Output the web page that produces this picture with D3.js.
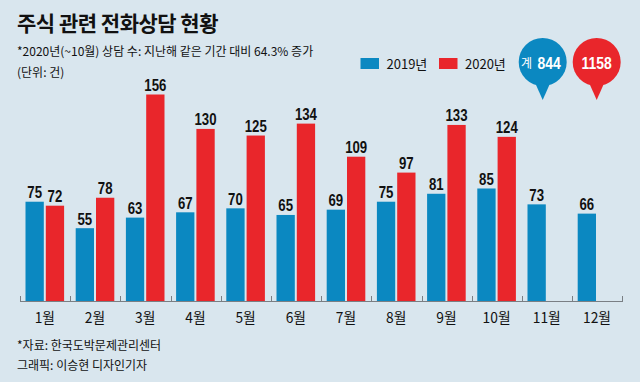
<!DOCTYPE html>
<html><head><meta charset="utf-8">
<script src="https://cdn.jsdelivr.net/npm/d3@7"></script>
<style>
html,body{margin:0;padding:0;background:#d9e6ee;}
svg{display:block;}
</style></head>
<body>
<svg id="chart" width="640" height="382"></svg>
<script>
const months = ["1월","2월","3월","4월","5월","6월","7월","8월","9월","10월","11월","12월"];
const values2019 = [75,55,63,67,70,65,69,75,81,85,73,66];
const values2020 = [72,78,156,130,125,134,109,97,133,124,null,null];
const seriesNames = ["2019년","2020년"];
const colors = ["#0b88c1","#e9262b"];
const totals = ["844","1158"];

const svg = d3.select("#chart");
const W = 640, H = 382;
svg.append("rect").attr("width",W).attr("height",H).attr("fill","#d9e6ee");

const KFONT = "'Noto Sans CJK KR',sans-serif";
const NFONT = "'Liberation Sans',Arial,sans-serif";

const x = d3.scaleBand().domain(months).range([20,622.4]).paddingInner(0).paddingOuter(0);
const y = d3.scaleLinear().domain([0,156]).range([301,94.5]);
const bw = 18.3, gap = 2, off = 5.5;

// axis
const axisG = svg.append("g").attr("transform","translate(0,301)");
axisG.append("line").attr("x1",20).attr("x2",622.4).attr("y1",0.5).attr("y2",0.5)
  .attr("stroke","#7a7f84").attr("stroke-width",1);
const tickPos = months.map(m=>x(m)).concat([x.range()[1]]);
axisG.selectAll("line.t").data(tickPos).enter().append("line").attr("class","t")
  .attr("x1",d=>Math.round(d)+0.5).attr("x2",d=>Math.round(d)+0.5).attr("y1",-5).attr("y2",1)
  .attr("stroke","#7a7f84").attr("stroke-width",1);

// bars
const series = [values2019, values2020];
series.forEach((vals,si)=>{
  const g = svg.append("g");
  const data = months.map((m,i)=>({m, v: vals[i]})).filter(d=>d.v!=null);
  g.selectAll("rect").data(data).enter().append("rect")
    .attr("x",d=>x(d.m)+off+si*(bw+gap))
    .attr("width",bw)
    .attr("y",d=>y(d.v))
    .attr("height",d=>y(0)-y(d.v))
    .attr("fill",colors[si]);
  g.selectAll("text").data(data).enter().append("text")
    .attr("transform",d=>`translate(${x(d.m)+off+si*(bw+gap)+bw/2},${y(d.v)-3.5}) scale(0.8,1)`)
    .attr("text-anchor","middle")
    .attr("font-family",NFONT).attr("font-weight","bold").attr("font-size",16.5)
    .attr("fill","#111")
    .text(d=>d.v);
});

// month labels
svg.append("g").selectAll("text").data(months).enter().append("text")
  .attr("transform",d=>`translate(${x(d)+off+bw+gap/2},323) scale(0.92,1)`)
  .attr("text-anchor","middle")
  .attr("font-family",KFONT).attr("font-size",15).attr("fill","#111")
  .text(d=>d);

// title
svg.append("text").attr("x",17).attr("y",31)
  .attr("font-family",KFONT).attr("font-weight","bold").attr("font-size",21)
  .attr("fill","#111").attr("letter-spacing",-0.5).text("주식 관련 전화상담 현황");
svg.append("text").attr("x",17).attr("y",56)
  .attr("font-family",KFONT).attr("font-size",12).attr("fill","#111")
  .text("*2020년(~10월) 상담 수: 지난해 같은 기간 대비 64.3% 증가");
svg.append("text").attr("x",17).attr("y",77)
  .attr("font-family",KFONT).attr("font-size",12).attr("fill","#111")
  .text("(단위: 건)");

// legend
const legX = [360.5, 439];
seriesNames.forEach((n,i)=>{
  svg.append("rect").attr("x",legX[i]).attr("y",58).attr("width",18.5).attr("height",11).attr("fill",colors[i]);
  svg.append("text").attr("x",legX[i]+26).attr("y",68.5)
    .attr("font-family",KFONT).attr("font-size",13).attr("fill","#111").text(n);
});

// bubbles
const bub = [{cx:542.7, c:colors[0]},{cx:596.7, c:colors[1]}];
bub.forEach((b,i)=>{
  const cy = 62, r = 24, tipY = 100;
  const g = svg.append("g");
  const a1 = Math.PI/2 - 0.28, a2 = Math.PI/2 + 0.28;
  g.append("path")
    .attr("d",`M${b.cx + r*Math.cos(a1)},${cy + r*Math.sin(a1)} L${b.cx},${tipY} L${b.cx + r*Math.cos(a2)},${cy + r*Math.sin(a2)} Z`)
    .attr("fill",b.c);
  g.append("circle").attr("cx",b.cx).attr("cy",cy).attr("r",r).attr("fill",b.c);
});
svg.append("text").attr("x",526.5).attr("y",68).attr("text-anchor","middle").attr("fill","#fff")
  .attr("font-family",KFONT).attr("font-size",12).text("계");
svg.append("text").attr("transform","translate(549,68.5) scale(0.82,1)").attr("text-anchor","middle").attr("fill","#fff")
  .attr("font-family",NFONT).attr("font-weight","bold").attr("font-size",17).text(totals[0]);
svg.append("text").attr("transform","translate(596.7,68.5) scale(0.82,1)").attr("text-anchor","middle").attr("fill","#fff")
  .attr("font-family",NFONT).attr("font-weight","bold").attr("font-size",17).text(totals[1]);

// footer
svg.append("text").attr("x",17).attr("y",350)
  .attr("font-family",KFONT).attr("font-size",12).attr("fill","#111").text("*자료: 한국도박문제관리센터");
svg.append("text").attr("x",17).attr("y",370)
  .attr("font-family",KFONT).attr("font-size",12).attr("fill","#111").text("그래픽: 이승현 디자인기자");
</script>
</body></html>
